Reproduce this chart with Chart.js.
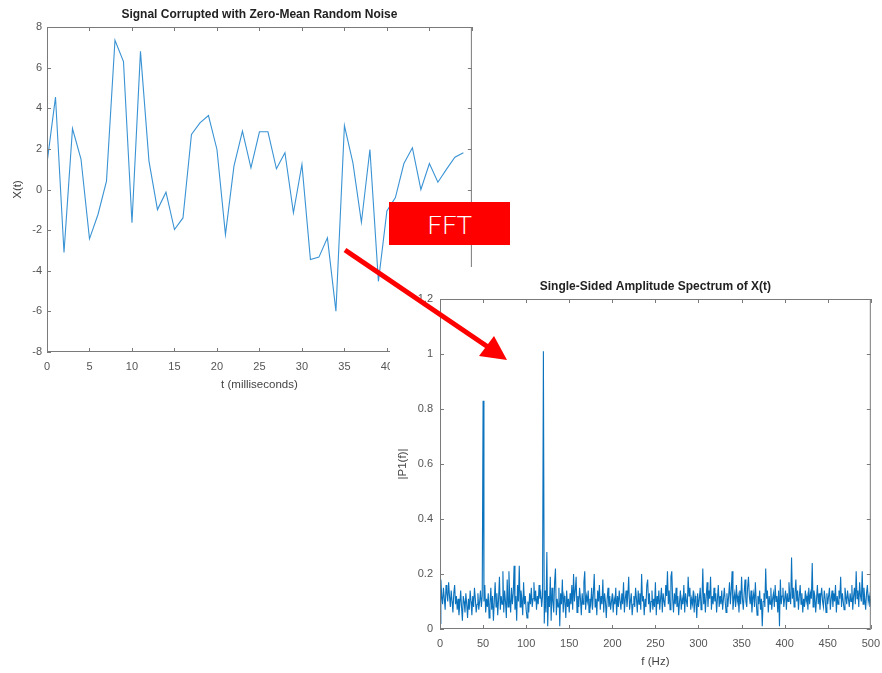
<!DOCTYPE html>
<html>
<head>
<meta charset="utf-8">
<script src="https://cdn.jsdelivr.net/npm/chart.js@4.4.1/dist/chart.umd.min.js"></script>
<style>
  html, body { margin: 0; padding: 0; background: #fff; overflow: hidden; }
  body { width: 882px; height: 673px; position: relative; }
  canvas { position: absolute; background: #fff; }
  #signalChart { left: 0; top: 0; }
  #spectrumChart { left: 390px; top: 267px; }
  #fftBox {
    position: absolute; left: 389px; top: 202px; width: 121px; height: 43px;
    background: #ff0000; color: #fff; font: 300 26px Lato, "Open Sans", sans-serif;
    display: flex; align-items: center; justify-content: center;
  }
  #arrow { position: absolute; left: 0; top: 0; pointer-events: none; }
</style>
</head>
<body>
<canvas id="signalChart" width="486" height="400"></canvas>
<div id="fftBox">FFT</div>
<canvas id="spectrumChart" width="498" height="406"></canvas>
<svg id="arrow" width="882" height="673">
  <line x1="345" y1="250" x2="488" y2="347" stroke="#ff0000" stroke-width="5"/>
  <polygon points="507,360 479,356 494,336" fill="#ff0000"/>
</svg>

<script>
// Noisy time signal, one sample per millisecond (t = 0..49)
const signalValues = [
    1.3, 4.55, -3.1, 3.0, 1.5, -2.43, -1.23, 0.41, 7.35, 6.3,
    -1.64, 6.8, 1.4, -0.99, -0.13, -1.97, -1.4, 2.71, 3.28, 3.64,
    1.97, -2.22, 1.15, 2.87, 1.07, 2.84, 2.84, 1.02, 1.81, -1.15,
    1.23, -3.45, -3.33, -2.38, -5.99, 3.15, 1.31, -1.61, 1.97, -4.52,
    -1.05, -0.4, 1.28, 2.05, 0.0, 1.28, 0.36, 0.99, 1.59, 1.81
];

// Single-sided amplitude spectrum, 1 Hz apart (f = 0..500)
const fStep = 1;
const spectrumValues = [
    0.02, 0.18, 0.12, 0.09, 0.15, 0.11, 0.07, 0.16, 0.13, 0.10, 0.17, 0.12, 0.08, 0.14, 0.10, 0.06, 0.13, 0.16, 0.09, 0.12, 0.07, 0.11, 0.05, 0.09, 0.14,
    0.08, 0.03, 0.12, 0.10, 0.06, 0.13, 0.09, 0.04, 0.11, 0.07, 0.14, 0.10, 0.05, 0.12, 0.08, 0.15, 0.11, 0.06, 0.09, 0.13, 0.07, 0.10, 0.14, 0.08, 0.12,
    0.83, 0.10, 0.16, 0.06, 0.11, 0.08, 0.13, 0.04, 0.09, 0.15, 0.07, 0.12, 0.03, 0.10, 0.17, 0.08, 0.13, 0.05, 0.11, 0.19, 0.07, 0.12, 0.09, 0.21, 0.06,
    0.14, 0.10, 0.04, 0.18, 0.08, 0.21, 0.11, 0.06, 0.15, 0.09, 0.13, 0.23, 0.07, 0.12, 0.03, 0.16, 0.10, 0.23, 0.08, 0.14, 0.11, 0.05, 0.17, 0.09, 0.12,
    0.07, 0.04, 0.10, 0.06, 0.13, 0.09, 0.15, 0.08, 0.11, 0.17, 0.10, 0.14, 0.07, 0.12, 0.09, 0.16, 0.11, 0.13, 0.08, 0.12, 1.01, 0.02, 0.14, 0.06, 0.28,
    0.01, 0.12, 0.08, 0.19, 0.03, 0.15, 0.10, 0.06, 0.17, 0.22, 0.05, 0.11, 0.08, 0.15, 0.01, 0.13, 0.09, 0.18, 0.06, 0.12, 0.10, 0.04, 0.14, 0.08, 0.11,
    0.06, 0.13, 0.09, 0.16, 0.07, 0.20, 0.10, 0.14, 0.19, 0.06, 0.12, 0.08, 0.15, 0.11, 0.05, 0.13, 0.09, 0.17, 0.21, 0.07, 0.12, 0.10, 0.14, 0.06, 0.11,
    0.09, 0.15, 0.07, 0.13, 0.20, 0.08, 0.11, 0.05, 0.14, 0.10, 0.16, 0.07, 0.12, 0.09, 0.18, 0.06, 0.13, 0.10, 0.04, 0.11, 0.15, 0.08, 0.12, 0.07, 0.10,
    0.13, 0.06, 0.11, 0.09, 0.15, 0.05, 0.12, 0.08, 0.14, 0.10, 0.07, 0.13, 0.09, 0.17, 0.06, 0.11, 0.14, 0.08, 0.12, 0.19, 0.07, 0.10, 0.13, 0.05, 0.09,
    0.12, 0.08, 0.15, 0.11, 0.06, 0.14, 0.09, 0.13, 0.07, 0.20, 0.10, 0.12, 0.05, 0.11, 0.08, 0.16, 0.18, 0.09, 0.13, 0.06, 0.10, 0.14, 0.07, 0.11, 0.08,
    0.17, 0.05, 0.12, 0.09, 0.14, 0.07, 0.11, 0.15, 0.06, 0.13, 0.10, 0.08, 0.16, 0.12, 0.21, 0.09, 0.14, 0.07, 0.19, 0.21, 0.11, 0.06, 0.13, 0.09, 0.15,
    0.08, 0.12, 0.05, 0.10, 0.14, 0.07, 0.11, 0.09, 0.16, 0.06, 0.13, 0.10, 0.08, 0.19, 0.12, 0.15, 0.07, 0.11, 0.09, 0.14, 0.06, 0.12, 0.10, 0.04, 0.13,
    0.08, 0.11, 0.15, 0.07, 0.10, 0.22, 0.09, 0.13, 0.06, 0.12, 0.17, 0.08, 0.14, 0.11, 0.19, 0.07, 0.12, 0.09, 0.15, 0.10, 0.13, 0.06, 0.11, 0.16, 0.08,
    0.12, 0.09, 0.14, 0.07, 0.11, 0.15, 0.10, 0.06, 0.13, 0.08, 0.12, 0.17, 0.09, 0.14, 0.21, 0.07, 0.11, 0.13, 0.08, 0.16, 0.10, 0.12, 0.06, 0.14, 0.09,
    0.19, 0.11, 0.07, 0.13, 0.18, 0.10, 0.08, 0.15, 0.19, 0.12, 0.09, 0.14, 0.06, 0.11, 0.13, 0.08, 0.17, 0.10, 0.05, 0.12, 0.09, 0.14, 0.07, 0.11, 0.01,
    0.10, 0.13, 0.08, 0.22, 0.11, 0.14, 0.06, 0.12, 0.09, 0.15, 0.07, 0.11, 0.13, 0.08, 0.16, 0.10, 0.12, 0.06, 0.14, 0.01, 0.18, 0.09, 0.12, 0.15, 0.08,
    0.11, 0.14, 0.07, 0.13, 0.10, 0.17, 0.12, 0.09, 0.26, 0.11, 0.15, 0.08, 0.13, 0.18, 0.10, 0.14, 0.07, 0.12, 0.16, 0.09, 0.13, 0.06, 0.11, 0.08, 0.14,
    0.10, 0.12, 0.07, 0.15, 0.09, 0.13, 0.11, 0.24, 0.08, 0.14, 0.12, 0.06, 0.11, 0.16, 0.09, 0.13, 0.07, 0.12, 0.15, 0.10, 0.08, 0.14, 0.11, 0.06, 0.13,
    0.09, 0.12, 0.15, 0.07, 0.11, 0.14, 0.08, 0.13, 0.10, 0.16, 0.06, 0.12, 0.09, 0.14, 0.11, 0.19, 0.08, 0.13, 0.10, 0.07, 0.15, 0.12, 0.09, 0.14, 0.11,
    0.08, 0.13, 0.10, 0.16, 0.07, 0.12, 0.15, 0.09, 0.21, 0.11, 0.14, 0.08, 0.17, 0.12, 0.10, 0.21, 0.09, 0.15, 0.11, 0.07, 0.13, 0.16, 0.10, 0.12, 0.08,
    0.11
];

const fontFamily = '"Liberation Sans", Arial, Helvetica, sans-serif';
const tickColor = '#555';
const boxColor = '#7a7a7a';

// MATLAB style: full box with ticks pointing inward on all four sides
const matlabBox = {
    id: 'matlabBox',
    afterDatasetsDraw(chart) {
        const { ctx, chartArea: a, scales: { x, y } } = chart;
        const len = 4;
        ctx.save();
        ctx.strokeStyle = boxColor;
        ctx.lineWidth = 1;
        ctx.strokeRect(a.left + 0.5, a.top + 0.5, a.right - a.left - 1, a.bottom - a.top - 1);
        ctx.beginPath();
        x.ticks.forEach(t => {
            const px = Math.round(x.getPixelForValue(t.value)) + 0.5;
            ctx.moveTo(px, a.bottom); ctx.lineTo(px, a.bottom - len);
            ctx.moveTo(px, a.top); ctx.lineTo(px, a.top + len);
        });
        y.ticks.forEach(t => {
            const py = Math.round(y.getPixelForValue(t.value)) + 0.5;
            ctx.moveTo(a.left, py); ctx.lineTo(a.left + len, py);
            ctx.moveTo(a.right, py); ctx.lineTo(a.right - len, py);
        });
        ctx.stroke();
        ctx.restore();
    }
};

// Plain tick text: "1" instead of "1.0"
const tickText = (v) => String(Math.round(v * 10) / 10);

const makeChart = (canvasId, points, color, width, cfg) => {
    return new Chart(document.getElementById(canvasId), {
        type: 'line',
        data: {
            datasets: [{
                data: points,
                borderColor: color,
                borderWidth: width,
                pointRadius: 0,
                tension: 0,
                fill: false
            }]
        },
        options: {
            responsive: false,
            animation: false,
            layout: { padding: { left: 0, top: 0, right: cfg.padRight, bottom: 0 } },
            plugins: {
                legend: { display: false },
                tooltip: { enabled: false },
                title: {
                    display: true,
                    text: cfg.title,
                    fullSize: false,
                    color: '#222',
                    font: { family: fontFamily, size: 12, weight: 'bold' },
                    padding: { top: cfg.titleTop, bottom: 4.8 }
                }
            },
            scales: {
                x: {
                    type: 'linear',
                    min: cfg.xMin, max: cfg.xMax,
                    afterFit: (s) => { s.height = cfg.xAxisHeight; },
                    grid: { display: false, drawTicks: false },
                    border: { display: false },
                    ticks: {
                        stepSize: cfg.xStep, autoSkip: false, maxRotation: 0,
                        color: tickColor, padding: cfg.xTickPad,
                        font: { family: fontFamily, size: 11 },
                        callback: tickText
                    },
                    title: {
                        display: true, text: cfg.xTitle, color: '#444',
                        font: { family: fontFamily, size: 11.5 },
                        padding: { top: 0, bottom: cfg.xTitlePad }
                    }
                },
                y: {
                    min: cfg.yMin, max: cfg.yMax,
                    afterFit: (s) => { s.width = cfg.yAxisWidth; },
                    grid: { display: false, drawTicks: false },
                    border: { display: false },
                    ticks: {
                        stepSize: cfg.yStep, autoSkip: false,
                        color: tickColor, padding: cfg.yTickPad,
                        font: { family: fontFamily, size: 11 },
                        callback: tickText
                    },
                    title: {
                        display: true, text: cfg.yTitle, color: '#444',
                        font: { family: fontFamily, size: 11.5 },
                        padding: { top: cfg.yTitlePad, bottom: 0 }
                    }
                }
            }
        },
        plugins: [matlabBox]
    });
};

makeChart('signalChart', signalValues.map((v, i) => ({ x: i, y: v })), '#3a93d4', 1.1, {
    title: 'Signal Corrupted with Zero-Mean Random Noise',
    titleTop: 7.8, padRight: 9,
    xMin: 0, xMax: 50, xStep: 5, xAxisHeight: 48, xTickPad: 8, xTitle: 't (milliseconds)', xTitlePad: 7.8,
    yMin: -8, yMax: 8, yStep: 2, yAxisWidth: 47, yTickPad: 5, yTitle: 'X(t)', yTitlePad: 11
});

makeChart('spectrumChart', spectrumValues.map((v, i) => ({ x: i * fStep, y: v })), '#0b72bd', 1.1, {
    title: 'Single-Sided Amplitude Spectrum of X(t)',
    titleTop: 12.8, padRight: 6,
    xMin: 0, xMax: 500, xStep: 50, xAxisHeight: 44, xTickPad: 8, xTitle: 'f (Hz)', xTitlePad: 4,
    yMin: 0, yMax: 1.2, yStep: 0.2, yAxisWidth: 50, yTickPad: 7, yTitle: '|P1(f)|', yTitlePad: 6
});
</script>
</body>
</html>
